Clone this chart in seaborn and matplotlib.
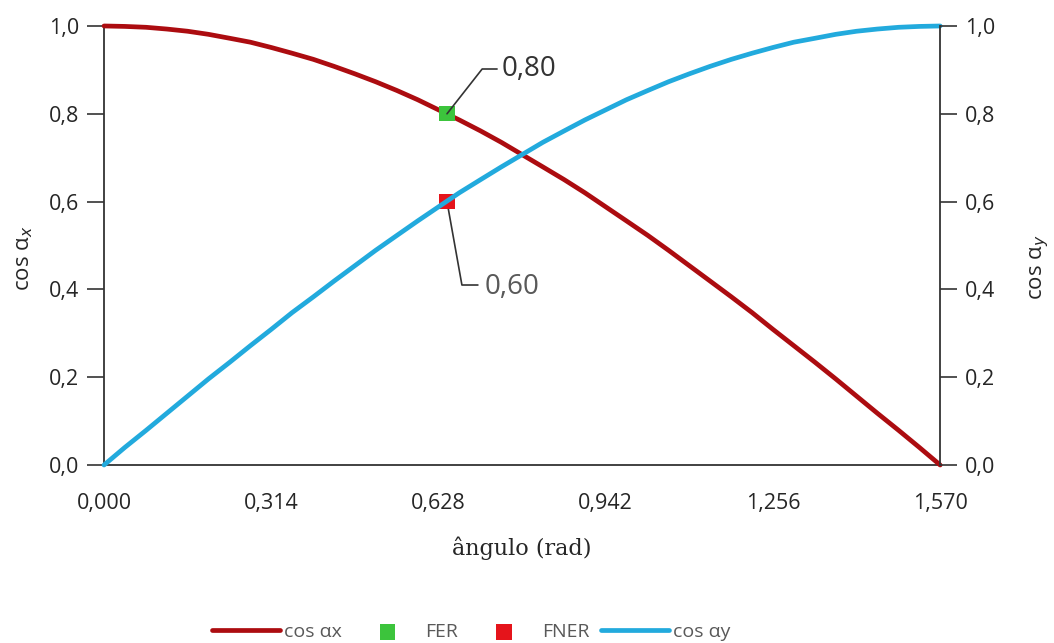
import matplotlib
matplotlib.use("Agg")
import matplotlib.pyplot as plt
import seaborn as sns
import pandas as pd

# ---- data ----
angle = [0.000, 0.039, 0.079, 0.118, 0.157, 0.196, 0.236, 0.275, 0.314, 0.353,
         0.393, 0.432, 0.471, 0.510, 0.550, 0.589, 0.628, 0.667, 0.707, 0.746,
         0.785, 0.824, 0.864, 0.903, 0.942, 0.981, 1.021, 1.060, 1.099, 1.138,
         1.178, 1.217, 1.256, 1.295, 1.335, 1.374, 1.413, 1.452, 1.492, 1.531, 1.570]
cos_ax = [1.000, 0.999, 0.997, 0.993, 0.988, 0.981, 0.972, 0.963, 0.951, 0.938,
          0.924, 0.908, 0.891, 0.873, 0.853, 0.832, 0.809, 0.786, 0.761, 0.735,
          0.707, 0.679, 0.650, 0.620, 0.588, 0.556, 0.523, 0.489, 0.454, 0.419,
          0.383, 0.347, 0.309, 0.272, 0.234, 0.196, 0.157, 0.118, 0.079, 0.040, 0.000]
cos_ay = [0.000, 0.040, 0.079, 0.118, 0.157, 0.196, 0.234, 0.272, 0.309, 0.347,
          0.383, 0.419, 0.454, 0.489, 0.523, 0.556, 0.588, 0.620, 0.650, 0.679,
          0.707, 0.735, 0.761, 0.786, 0.809, 0.832, 0.853, 0.873, 0.891, 0.908,
          0.924, 0.938, 0.951, 0.963, 0.972, 0.981, 0.988, 0.993, 0.997, 0.999, 1.000]
fer_x, fer_y = [0.644], [0.80]
fner_x, fner_y = [0.644], [0.60]
x_ticks = [0.000, 0.314, 0.628, 0.942, 1.256, 1.570]
x_tick_labels = ["0,000", "0,314", "0,628", "0,942", "1,256", "1,570"]
y_ticks = [0.0, 0.2, 0.4, 0.6, 0.8, 1.0]
y_tick_labels = ["0,0", "0,2", "0,4", "0,6", "0,8", "1,0"]

RED = "#AC0C10"
BLUE = "#22AADD"
GREEN = "#3CC43C"
MRED = "#E5141B"
TXT = "#262626"

sns.set_theme(style="white")
plt.rcParams["font.family"] = ["Open Sans", "DejaVu Sans"]

fig = plt.figure(figsize=(10.54, 6.43), dpi=100)
ax = fig.add_axes([0.0987, 0.2768, 0.7933, 0.6828])
ax2 = ax.twinx()

df = pd.DataFrame({"angle": angle, "cos_ax": cos_ax, "cos_ay": cos_ay})
sns.lineplot(data=df, x="angle", y="cos_ax", ax=ax, color=RED, linewidth=3.4,
             label="cos αx", legend=False, clip_on=False, zorder=3)
sns.lineplot(data=df, x="angle", y="cos_ay", ax=ax, color=BLUE, linewidth=3.4,
             label="cos αy", legend=False, clip_on=False, zorder=3)
sns.scatterplot(x=fer_x, y=fer_y, ax=ax, color=GREEN, marker="s", s=120,
                label="FER", legend=False, zorder=4, edgecolor="none")
sns.scatterplot(x=fner_x, y=fner_y, ax=ax, color=MRED, marker="s", s=120,
                label="FNER", legend=False, zorder=2, edgecolor="none")

for a in (ax, ax2):
    a.set_xlim(0, 1.570)
    a.set_ylim(0, 1.0)
    a.set_yticks(y_ticks)
    a.set_yticklabels(y_tick_labels)
    a.tick_params(axis="y", direction="out", length=12, width=1.2, color="#333333",
                  labelsize=15.5, labelcolor=TXT, pad=6)
    for s in a.spines.values():
        s.set_visible(False)

ax.spines["left"].set_visible(True)
ax.spines["bottom"].set_visible(True)
ax2.spines["right"].set_visible(True)
for a, side in ((ax, "left"), (ax, "bottom"), (ax2, "right")):
    a.spines[side].set_color("#333333")
    a.spines[side].set_linewidth(1.3)

ax.set_xticks(x_ticks)
ax.set_xticklabels(x_tick_labels)
ax.tick_params(axis="x", length=0, labelsize=15.5, labelcolor=TXT, pad=20)

ax.set_xlabel("ângulo (rad)", family=["DejaVu Serif"], fontsize=16,
              color=TXT, labelpad=16)
ax.set_ylabel(r"cos α$_x$", fontsize=16, color=TXT)
ax.yaxis.set_label_coords(-0.083, 0.47)
ax2.set_ylabel(r"cos α$_y$", fontsize=16, color=TXT, rotation=90)
ax2.yaxis.set_label_coords(1.105, 0.45)

# callouts
ax.plot([fer_x[0], 0.710, 0.738], [fer_y[0], 0.902, 0.902], color="#333333", lw=1.2, zorder=5)
ax.text(0.747, 0.902, "0,80", fontsize=20, color="#333333", va="center", ha="left")
ax.plot([fner_x[0], 0.672, 0.702], [fner_y[0], 0.410, 0.410], color="#333333", lw=1.2, zorder=1)
ax.text(0.715, 0.405, "0,60", fontsize=20, color="#595959", va="center", ha="left")

handles, labels = ax.get_legend_handles_labels()
order = ["cos αx", "FER", "FNER", "cos αy"]
hmap = dict(zip(labels, handles))
leg = fig.legend([hmap[k] for k in order], order, loc="center", bbox_to_anchor=(0.447, 0.017),
                 ncol=4, frameon=False, fontsize=14, handlelength=3.5, columnspacing=0.6,
                 handletextpad=0.2)
for t in leg.get_texts():
    t.set_color("#595959")

fig.savefig("out.png", dpi=100)
